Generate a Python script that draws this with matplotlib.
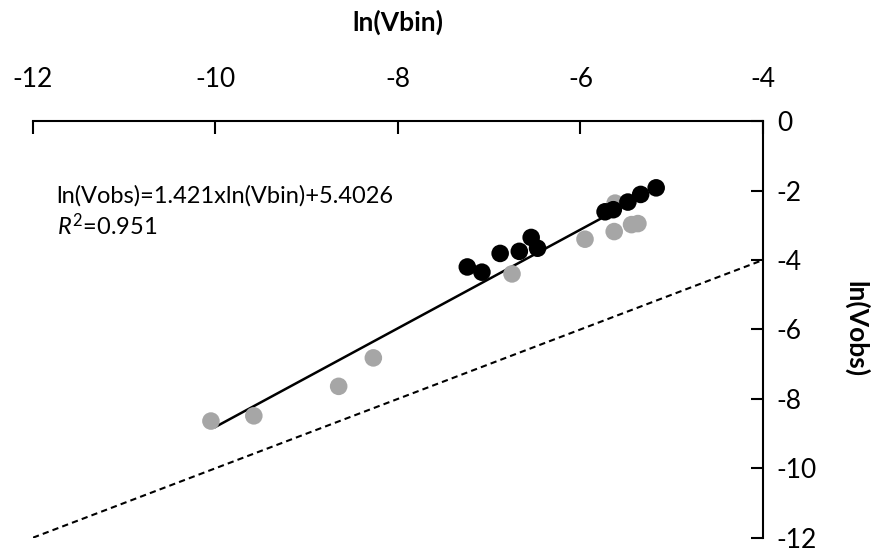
import numpy as np
import matplotlib.pyplot as plt

plt.rcParams['font.family'] = ['Lato', 'DejaVu Sans']
plt.rcParams['axes.unicode_minus'] = False
plt.rcParams['mathtext.fontset'] = 'custom'
plt.rcParams['mathtext.it'] = 'Lato:italic'
plt.rcParams['mathtext.rm'] = 'Lato'

# grey series
grey_x = [-10.05, -9.58, -8.65, -8.27, -6.75, -5.95, -5.63, -5.62, -5.44, -5.37]
grey_y = [-8.64, -8.49, -7.64, -6.82, -4.40, -3.40, -3.18, -2.36, -2.98, -2.95]

# black series
black_x = [-7.24, -7.08, -6.88, -6.67, -6.54, -6.47, -5.73, -5.64, -5.48, -5.34, -5.17]
black_y = [-4.20, -4.35, -3.81, -3.75, -3.35, -3.66, -2.61, -2.55, -2.33, -2.11, -1.92]

# fit and 1:1 line
slope, intercept = 1.421, 5.4026
fit_x = [-10.0, -5.3]
one_x = [-12, -4]

fig = plt.figure(figsize=(8.83, 5.56), dpi=100)
ax = fig.add_axes([0.0374, 0.033, 0.8266, 0.749])

ax.plot(one_x, one_x, color='black', linestyle=(0, (3, 2)), linewidth=1.5, zorder=2)
fx = np.array(fit_x)
ax.plot(fx, slope * fx + intercept, color='black', linewidth=1.8, zorder=2)

ax.scatter(grey_x, grey_y, s=160, color='#a6a6a6', edgecolors='none', zorder=3)
ax.scatter(black_x, black_y, s=160, color='black', edgecolors='none', zorder=4)

ax.set_xlim(-12, -4)
ax.set_ylim(-12, 0)
ax.set_xticks([-12, -10, -8, -6, -4])
ax.set_yticks([0, -2, -4, -6, -8, -10, -12])

ax.spines['left'].set_visible(False)
ax.spines['bottom'].set_visible(False)
for s in ['top', 'right']:
    ax.spines[s].set_linewidth(1.5)

ax.xaxis.tick_top()
ax.yaxis.tick_right()
ax.tick_params(axis='both', direction='in', length=9, width=1.5, labelsize=19, pad=10)
ax.tick_params(axis='x', pad=21)

ax.xaxis.set_label_position('top')
ax.set_xlabel('ln(Vbin)', fontsize=19, fontweight='bold', labelpad=26)
ax.yaxis.set_label_position('right')
ax.set_ylabel('ln(Vobs)', fontsize=19, fontweight='bold', rotation=270, labelpad=37)

ax.text(-11.74, -2.15, 'ln(Vobs)=1.421xln(Vbin)+5.4026', fontsize=17, va='center')
ax.text(-11.74, -3.0, r'$R^2$=0.951', fontsize=17, va='center')

fig.savefig('out.png', dpi=100)
